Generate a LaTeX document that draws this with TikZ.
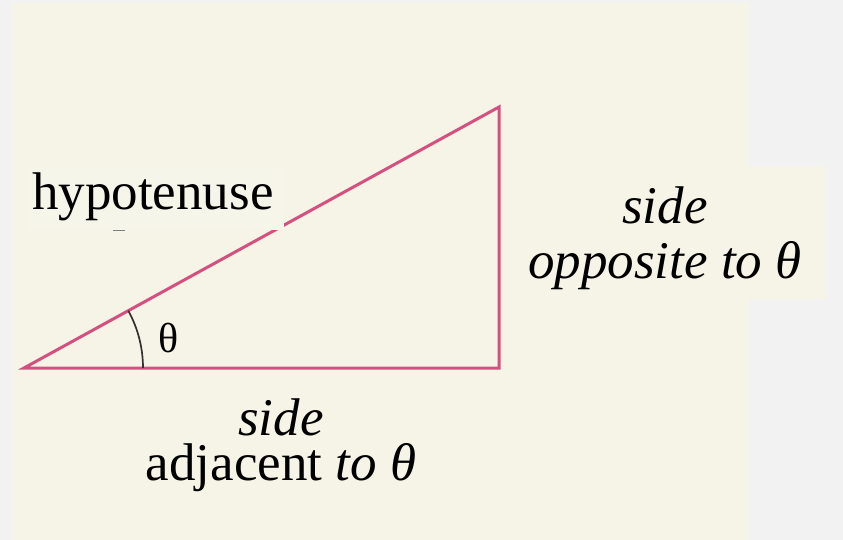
\documentclass[tikz,border=0pt]{standalone}
\usepackage{fontspec}
\setmainfont{Liberation Serif}
\definecolor{outerbg}{RGB}{242,242,242}
\definecolor{creambg}{RGB}{245,244,230}
\definecolor{patchbg}{RGB}{246,245,233}
\definecolor{pinkline}{RGB}{212,80,128}
\definecolor{arcgray}{RGB}{50,50,50}
\tikzset{
  lbl/.style={inner sep=0pt, font=\fontsize{53}{60}\selectfont},
  anglbl/.style={inner sep=0pt, font=\fontsize{42}{50}\selectfont},
  side/.style={draw=pinkline, line width=3pt, line join=miter},
}
\begin{document}
\begin{tikzpicture}[x=1pt,y=-1pt]
\useasboundingbox (0,0) rectangle (843,540);
\fill[outerbg] (0,0) rectangle (843,540);
\fill[creambg] (13,3) rectangle (749,540);
\fill[creambg] (749,166) rectangle (827,299);
\coordinate (A) at (24,368);
\coordinate (B) at (499,368);
\coordinate (C) at (499,107);
\draw[side] (A) -- (B) -- (C) -- cycle;
\draw[arcgray, line width=1.7pt] (A) ++(0:119) arc[start angle=0, end angle=-28.8, radius=119];
\fill[patchbg] (28,168) rectangle (284,230);
\draw[gray, line width=1pt] (113,230) -- (125,230);
\node[lbl, anchor=base west] (hyp) at (32,210) {hypotenuse};
\node[anglbl, anchor=base] (th) at (169,352) {θ};
\node[lbl, anchor=base, align=center, font=\fontsize{53}{55}\selectfont] (opp) at (665,278) {\itshape side\\\itshape opposite to θ};
\node[lbl, anchor=base, align=center, font=\fontsize{53}{45}\selectfont] (adj) at (281,480) {\itshape side\\adjacent \itshape to θ};
\end{tikzpicture}
\end{document}
